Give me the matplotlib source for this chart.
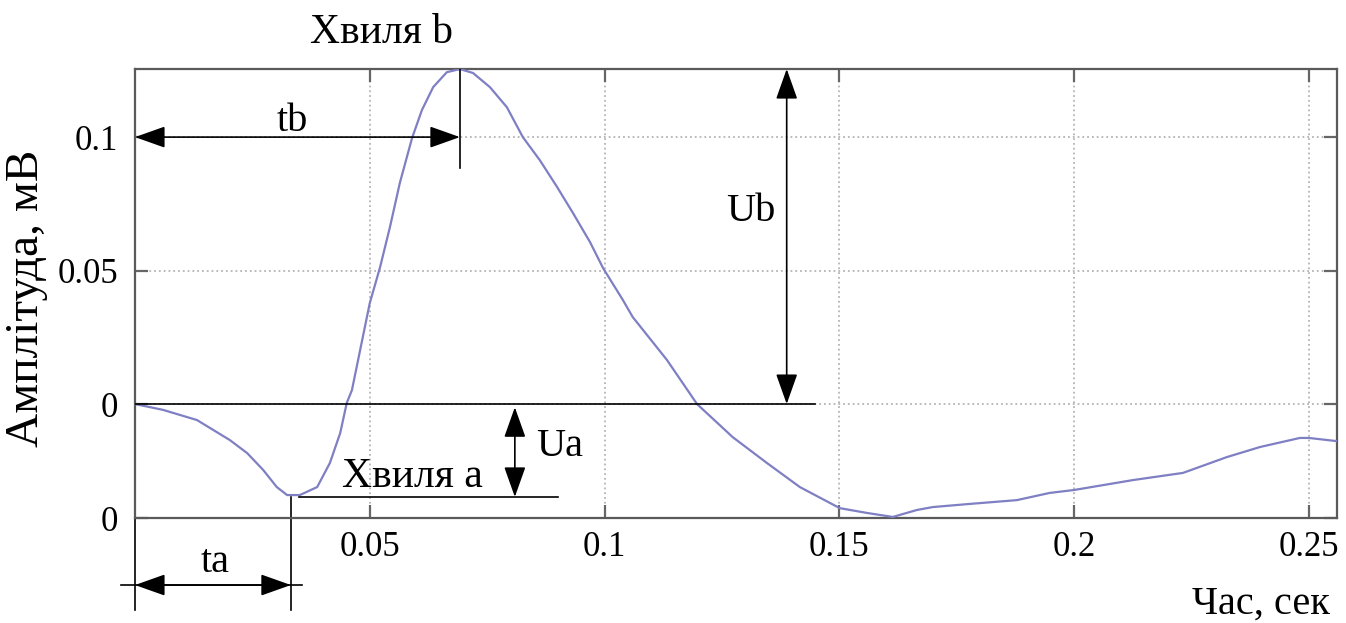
import matplotlib.pyplot as plt

plt.rcParams['font.family'] = ['Liberation Serif', 'DejaVu Serif']

# waveform (time in s, amplitude in mV)
t = [0.0, 0.0060, 0.0132, 0.0202, 0.0239, 0.0273, 0.0302, 0.0324, 0.0351,
     0.0388, 0.0415, 0.0437, 0.0451, 0.0462, 0.0500, 0.0522, 0.0543, 0.0564,
     0.0590, 0.0611, 0.0635, 0.0664, 0.0692, 0.0720, 0.0756, 0.0792, 0.0826,
     0.0862, 0.0899, 0.0933, 0.0969, 0.0997, 0.1039, 0.1060, 0.1133, 0.1197,
     0.1273, 0.1346, 0.1416, 0.1501, 0.1559, 0.1614, 0.1665, 0.1699, 0.1772,
     0.1878, 0.1948, 0.2000, 0.2125, 0.2232, 0.2325, 0.2396, 0.2481, 0.2500,
     0.2560]
amp = [0.0, -0.0022, -0.0060, -0.0135, -0.0184, -0.0247, -0.0311, -0.0341,
       -0.0341, -0.0311, -0.0221, -0.0109, 0.0004, 0.0052, 0.0378, 0.0513,
       0.0663, 0.0828, 0.0996, 0.1101, 0.1187, 0.1243, 0.1255, 0.1240, 0.1187,
       0.1112, 0.1000, 0.0914, 0.0813, 0.0715, 0.0607, 0.0509, 0.0390, 0.0326,
       0.0165, 0.0, -0.0124, -0.0221, -0.0311, -0.0390, -0.0408, -0.0423,
       -0.0397, -0.0386, -0.0375, -0.0360, -0.0333, -0.0322, -0.0285, -0.0258,
       -0.0199, -0.0161, -0.0127, -0.0127, -0.0139]

xticks = [0.05, 0.1, 0.15, 0.2, 0.25]
xticklabels = ['0.05', '0.1', '0.15', '0.2', '0.25']
ymin, ymax = -0.0427, 0.1255
yticks = [ymin, 0, 0.05, 0.1]
yticklabels = ['0', '0', '0.05', '0.1']

# markers of the waves
ta, ua = 0.0332, -0.0348
tb, ub = 0.0692, 0.1255

fig = plt.figure(figsize=(13.46, 6.23), dpi=100)
ax = fig.add_axes([0.1003, 0.1685, 0.8930, 0.7207])

ax.plot(t, amp, color='#7f7fc4', lw=1.6, zorder=3)

ax.set_xlim(0, 0.256)
ax.set_ylim(ymin, ymax)
ax.set_xticks(xticks)
ax.set_xticklabels(xticklabels)
ax.set_yticks(yticks)
ax.set_yticklabels(yticklabels)
ax.grid(True, linestyle=':', color='#b4b4b4', lw=1.3)
ax.tick_params(direction='in', length=9.5, width=1.6, color='#666666',
               labelsize=25, top=True, right=True)
ax.tick_params(axis='x', pad=9)
ax.tick_params(axis='y', pad=12)
for s in ax.spines.values():
    s.set_color('#5a5a5a')
    s.set_linewidth(1.6)

arrow = dict(arrowstyle='<|-|>,head_length=0.45,head_width=0.16',
             color='k', lw=1.2, mutation_scale=42, shrinkA=0, shrinkB=0)

# zero reference line
ax.plot([0, 0.1448], [0, 0], color='k', lw=1.2, zorder=4)

# wave b
ax.annotate('', xy=(0, 0.1), xytext=(tb, 0.1), arrowprops=arrow, zorder=5)
ax.plot([tb, tb], [0.0884, ymax], color='k', lw=1.2, zorder=4)
ax.text(0.0336, 0.106, 'tb', fontsize=29, ha='center', va='center')
ax.annotate('', xy=(0.1388, ub), xytext=(0.1388, 0), arrowprops=arrow, zorder=5)
ax.text(0.1365, 0.072, 'Ub', fontsize=29, ha='right', va='center')
ax.text(0.0526, 0.139, 'Хвиля b', fontsize=30, ha='center', va='center',
        clip_on=False)

# wave a
ax.plot([0.035, 0.090], [ua, ua], color='k', lw=1.2, zorder=4)
ax.annotate('', xy=(0.0809, -0.0012), xytext=(0.0809, ua), arrowprops=arrow,
            zorder=5)
ax.text(0.0855, -0.0160, 'Ua', fontsize=29, ha='left', va='center')
ax.text(0.059, -0.0273, 'Хвиля a', fontsize=30, ha='center', va='center')

ax.plot([0, 0], [ymin, -0.0772], color='k', lw=1.2, clip_on=False)
ax.plot([ta, ta], [ua, -0.0772], color='k', lw=1.2, clip_on=False)
ax.plot([-0.003, 0.0356], [-0.0678, -0.0678], color='k', lw=1.2,
        clip_on=False)
ax.annotate('', xy=(0, -0.0678), xytext=(ta, -0.0678), arrowprops=arrow,
            annotation_clip=False)
ax.text(0.017, -0.0592, 'ta', fontsize=29, ha='center', va='center',
        clip_on=False)

fig.text(27 / 1346, 1 - 298 / 623, 'Амплітуда, мВ', fontsize=34,
         rotation=90, ha='center', va='center')
fig.text(1261 / 1346, 1 - 614 / 623, 'Час, сек', fontsize=29,
         ha='center', va='baseline')

fig.savefig('out.png', dpi=100)
